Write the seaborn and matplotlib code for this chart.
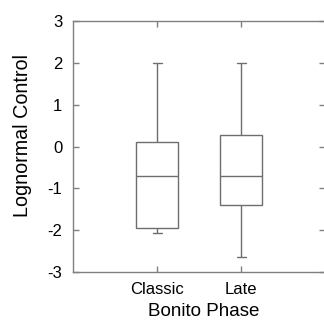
import numpy as np
import pandas as pd
import matplotlib
matplotlib.use("Agg")
import matplotlib.pyplot as plt
import seaborn as sns

# Data (five-number summaries: min, Q1, median, Q3, max)
categories = ["Classic", "Late"]
classic_values = [-2.06, -1.95, -0.70, 0.11, 2.00]
late_values = [-2.64, -1.40, -0.70, 0.27, 2.00]
y_ticks = [-3, -2, -1, 0, 1, 2, 3]

df = pd.DataFrame({
    "Bonito Phase": [categories[0]] * len(classic_values) + [categories[1]] * len(late_values),
    "Lognormal Control": classic_values + late_values,
})

sns.set_theme(style="white")
plt.rcParams["font.family"] = ["Liberation Sans", "DejaVu Sans"]

line_col = "#6e6e6e"
spine_col = "#808080"

fig = plt.figure(figsize=(3.24, 3.27), dpi=100)
ax = fig.add_axes([73.3 / 324, (327 - 272.3) / 327, 252 / 324, 251.6 / 327])

sns.boxplot(
    data=df, x="Bonito Phase", y="Lognormal Control", order=categories,
    whis=(0, 100), width=0.5, color="white", linecolor=line_col,
    linewidth=1.0, capwidths=0.1, ax=ax,
)

ax.set_xlim(-1, 2)
ax.set_ylim(-3, 3)
ax.set_yticks(y_ticks)
ax.set_yticklabels([str(t) for t in y_ticks])

for side in ["left", "right", "top", "bottom"]:
    ax.spines[side].set_visible(True)
    ax.spines[side].set_color(spine_col)
    ax.spines[side].set_linewidth(1.0)

ax.tick_params(axis="both", which="major", direction="in", length=4, width=1.0,
               color=spine_col, labelcolor="black", labelsize=12,
               top=True, right=True, bottom=True, left=True)
ax.tick_params(axis="y", pad=8)
ax.tick_params(axis="x", pad=7)

ax.set_xlabel("Bonito Phase", fontsize=13.5, color="black")
ax.set_ylabel("Lognormal Control", fontsize=14.2, color="black")
ax.xaxis.set_label_coords(0.519, -0.124)
ax.yaxis.set_label_coords(-0.165, 0.542)

fig.savefig("out.png", dpi=100)
